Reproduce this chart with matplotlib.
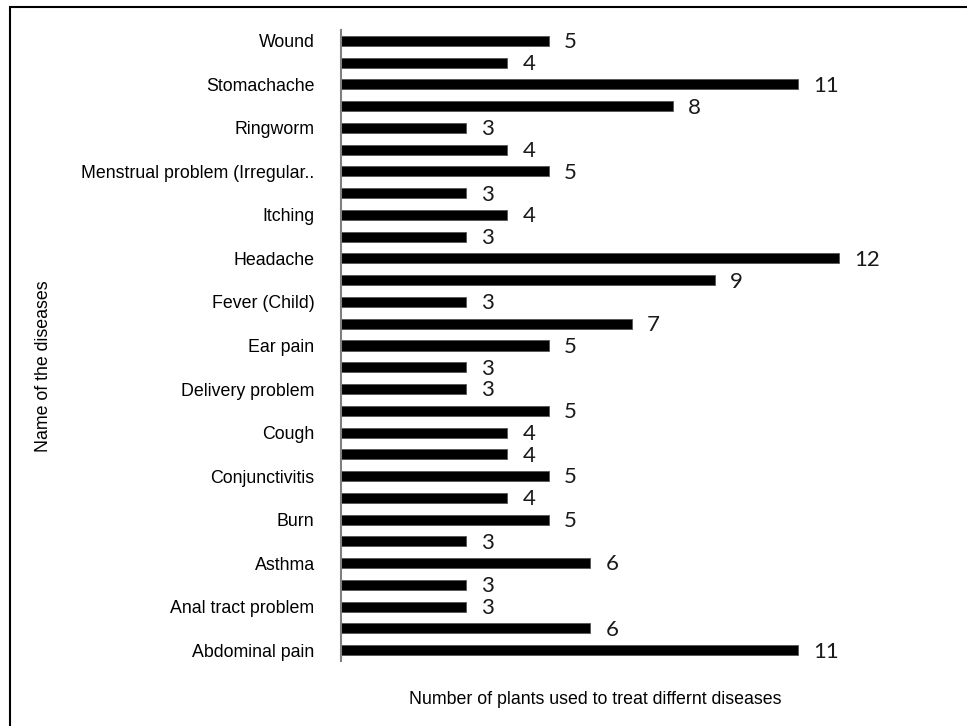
import matplotlib
matplotlib.use("Agg")
import matplotlib.pyplot as plt
from matplotlib.patches import Rectangle

# bottom to top; only every other category carries a name on the axis
labels = ["Abdominal pain", "", "Anal tract problem", "", "Asthma", "",
          "Burn", "", "Conjunctivitis", "", "Cough", "",
          "Delivery problem", "", "Ear pain", "", "Fever (Child)", "",
          "Headache", "", "Itching", "", "Menstrual problem (Irregular..", "",
          "Ringworm", "", "Stomachache", "", "Wound"]
plant_counts = [11, 6, 3, 3, 6, 3, 5, 4, 5, 4, 4, 5, 3, 3, 5,
                7, 3, 9, 12, 3, 4, 3, 5, 4, 3, 8, 11, 4, 5]

x_title = "Number of plants used to treat differnt diseases"
y_title = "Name of the diseases"

W, H = 967, 726
fig = plt.figure(figsize=(W / 100, H / 100), dpi=100)
ax = fig.add_axes([341 / W, 65 / H, 581 / W, 631 / H])

pos = list(range(len(plant_counts)))
ax.barh(pos, plant_counts, height=0.46, color="black", edgecolor="#555555", linewidth=0.6)

# value labels just past the end of each bar
for y, v in zip(pos, plant_counts):
    ax.annotate(str(v), (v, y), xytext=(11, -1), textcoords="offset points",
                ha="left", va="center", fontsize=16, family="Lato", color="#1a1a1a")

ax.set_xlim(0, 14)
ax.set_ylim(-0.5, len(plant_counts) - 0.5)
ax.set_xticks([])
ax.set_yticks(pos)
ax.set_yticklabels(labels, family="Liberation Sans", fontsize=12.8)
ax.tick_params(axis="y", length=0, pad=19)
for side in ["top", "right", "bottom"]:
    ax.spines[side].set_visible(False)
ax.spines["left"].set_color("#808080")
ax.spines["left"].set_linewidth(1.5)

fig.text(595 / W, 1 - 699 / H, x_title, ha="center", va="center",
         family="Liberation Sans", fontsize=12.8)
fig.text(44 / W, 1 - 366 / H, y_title, ha="center", va="center", rotation=90,
         family="Liberation Sans", fontsize=12.8)

# outer frame, running off the right and bottom edges
fig.patches.append(Rectangle((10 / W, -0.05), 1.1, 1 - 7 / H + 0.05,
                             transform=fig.transFigure, fill=False,
                             edgecolor="black", linewidth=1.5))

fig.savefig("out.png", dpi=100)
